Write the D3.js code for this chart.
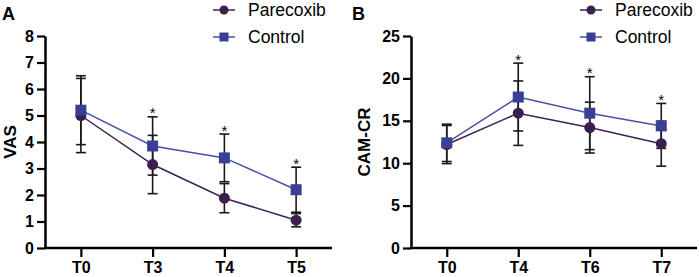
<!DOCTYPE html>
<html>
<head>
<meta charset="utf-8">
<script src="https://cdn.jsdelivr.net/npm/d3@7"></script>
<style>
  body { margin: 0; background: #fff; }
  svg { display: block; font-family: "Liberation Sans", Arial, sans-serif; }
</style>
</head>
<body>
<div id="chart"></div>
<script>
/* Two panels: VAS (A) and CAM-CR (B), mean +/- sd, Parecoxib vs Control */

const seriesNames = ["Parecoxib", "Control"];

const vasTimes = ["T0", "T3", "T4", "T5"];
const vasParecoxib = [5.0, 3.15, 1.88, 1.05];
const vasParecoxibSd = [1.4, 1.1, 0.55, 0.25];
const vasControl = [5.2, 3.85, 3.4, 2.2];
const vasControlSd = [1.3, 1.1, 0.9, 0.85];
const vasTicks = [0, 1, 2, 3, 4, 5, 6, 7, 8];

const camTimes = ["T0", "T4", "T6", "T7"];
const camParecoxib = [12.2, 15.9, 14.2, 12.3];
const camParecoxibSd = [2.25, 3.8, 3.0, 2.65];
const camControl = [12.4, 17.8, 15.9, 14.4];
const camControlSd = [2.2, 4.0, 4.3, 2.65];
const camTicks = [0, 5, 10, 15, 20, 25];

const starred = { A: ["T3", "T4", "T5"], B: ["T4", "T6", "T7"] };

const width = 699, height = 277;
const colors = { Parecoxib: "#3b1f4f", Control: "#3a3f94" };
const lineColors = { Parecoxib: "#3d2152", Control: "#4b50a6" };

const svg = d3.select("#chart")
    .append("svg")
    .attr("width", width)
    .attr("height", height);

function panel(opt) {
    const g = svg.append("g");

    let x = d3.scalePoint()
        .domain(opt.times)
        .range([opt.left, opt.right])
        .padding(0.5);

    let y = d3.scaleLinear()
        .domain([0, opt.max])
        .range([248, 36]);

    // axes
    const yAxis = g.append("g")
        .attr("transform", `translate(${opt.left},0)`)
        .call(d3.axisLeft(y).tickValues(opt.ticks).tickSize(8).tickPadding(3).tickSizeOuter(0));
    const xAxis = g.append("g")
        .attr("transform", `translate(0,248)`)
        .call(d3.axisBottom(x).tickSize(9).tickPadding(5).tickSizeOuter(0));

    [xAxis, yAxis].forEach(a => {
        a.select(".domain").attr("stroke", "#000").attr("stroke-width", 2.5);
        a.selectAll(".tick line").attr("stroke", "#000").attr("stroke-width", 2.2);
        a.selectAll(".tick text")
            .attr("fill", "#000")
            .style("font-size", "16px")
            .style("font-weight", "bold");
    });
    // extend x domain to meet y axis
    xAxis.select(".domain").attr("d", `M${opt.left - 1},0H${opt.right}`);

    // axis title
    g.append("text")
        .attr("transform", `translate(${opt.titleX},${(y(0) + y(opt.max)) / 2}) rotate(-90)`)
        .attr("text-anchor", "middle")
        .attr("dy", "0.35em")
        .style("font-size", "17px")
        .style("font-weight", "bold")
        .text(opt.title);

    // panel letter
    g.append("text")
        .attr("x", opt.letterX)
        .attr("y", 20)
        .style("font-size", "18px")
        .style("font-weight", "bold")
        .text(opt.letter);

    const series = [
        { name: "Parecoxib", mean: opt.par, sd: opt.parSd },
        { name: "Control", mean: opt.con, sd: opt.conSd }
    ];

    // error bars
    series.forEach(s => {
        const eb = g.append("g").attr("stroke", "#1a1a1a").attr("stroke-width", 1.6);
        opt.times.forEach((t, i) => {
            const cx = x(t), lo = y(s.mean[i] - s.sd[i]), hi = y(s.mean[i] + s.sd[i]);
            eb.append("line").attr("x1", cx).attr("x2", cx).attr("y1", lo).attr("y2", hi);
            eb.append("line").attr("x1", cx - 5).attr("x2", cx + 5).attr("y1", lo).attr("y2", lo);
            eb.append("line").attr("x1", cx - 5).attr("x2", cx + 5).attr("y1", hi).attr("y2", hi);
        });
    });

    // lines and markers
    const line = d3.line().x(d => x(d.t)).y(d => y(d.v));
    series.forEach(s => {
        const pts = opt.times.map((t, i) => ({ t: t, v: s.mean[i] }));
        g.append("path")
            .datum(pts)
            .attr("fill", "none")
            .attr("stroke", lineColors[s.name])
            .attr("stroke-width", 1.5)
            .attr("d", line);
    });
    series.forEach(s => {
        const pts = opt.times.map((t, i) => ({ t: t, v: s.mean[i] }));
        if (s.name === "Parecoxib") {
            g.selectAll(null).data(pts).join("circle")
                .attr("cx", d => x(d.t)).attr("cy", d => y(d.v)).attr("r", 5.5)
                .attr("fill", colors[s.name]);
        } else {
            g.selectAll(null).data(pts).join("rect")
                .attr("x", d => x(d.t) - 5.5).attr("y", d => y(d.v) - 5.5)
                .attr("width", 11).attr("height", 11)
                .attr("fill", colors[s.name]);
        }
    });

    // significance stars above the control upper cap
    opt.times.forEach((t, i) => {
        if (!opt.stars.includes(t)) return;
        const top = Math.max(opt.par[i] + opt.parSd[i], opt.con[i] + opt.conSd[i]);
        g.append("text")
            .attr("x", x(t))
            .attr("y", y(top) + 1.5)
            .attr("text-anchor", "middle")
            .style("font-size", "15px")
            .text("*");
    });

    // legend
    const lg = g.append("g");
    seriesNames.forEach((name, i) => {
        const ly = 10 + i * 27;
        const mx = opt.legendX;
        lg.append("line")
            .attr("x1", mx - 11).attr("x2", mx + 11).attr("y1", ly).attr("y2", ly)
            .attr("stroke", lineColors[name]).attr("stroke-width", 1.5);
        if (name === "Parecoxib") {
            lg.append("circle").attr("cx", mx).attr("cy", ly).attr("r", 4.5).attr("fill", colors[name]);
        } else {
            lg.append("rect").attr("x", mx - 4.5).attr("y", ly - 4.5).attr("width", 9).attr("height", 9)
                .attr("fill", colors[name]);
        }
        lg.append("text")
            .attr("x", mx + 24)
            .attr("y", ly)
            .attr("dy", "0.36em")
            .style("font-size", "17.5px")
            .text(name);
    });
}

panel({
    letter: "A", letterX: 2, title: "VAS", titleX: 10,
    times: vasTimes, par: vasParecoxib, parSd: vasParecoxibSd,
    con: vasControl, conSd: vasControlSd,
    max: 8, ticks: vasTicks, left: 45, right: 332,
    stars: starred.A, legendX: 224
});

panel({
    letter: "B", letterX: 352, title: "CAM-CR", titleX: 364,
    times: camTimes, par: camParecoxib, parSd: camParecoxibSd,
    con: camControl, conSd: camControlSd,
    max: 25, ticks: camTicks, left: 411, right: 697,
    stars: starred.B, legendX: 591
});
</script>
</body>
</html>
